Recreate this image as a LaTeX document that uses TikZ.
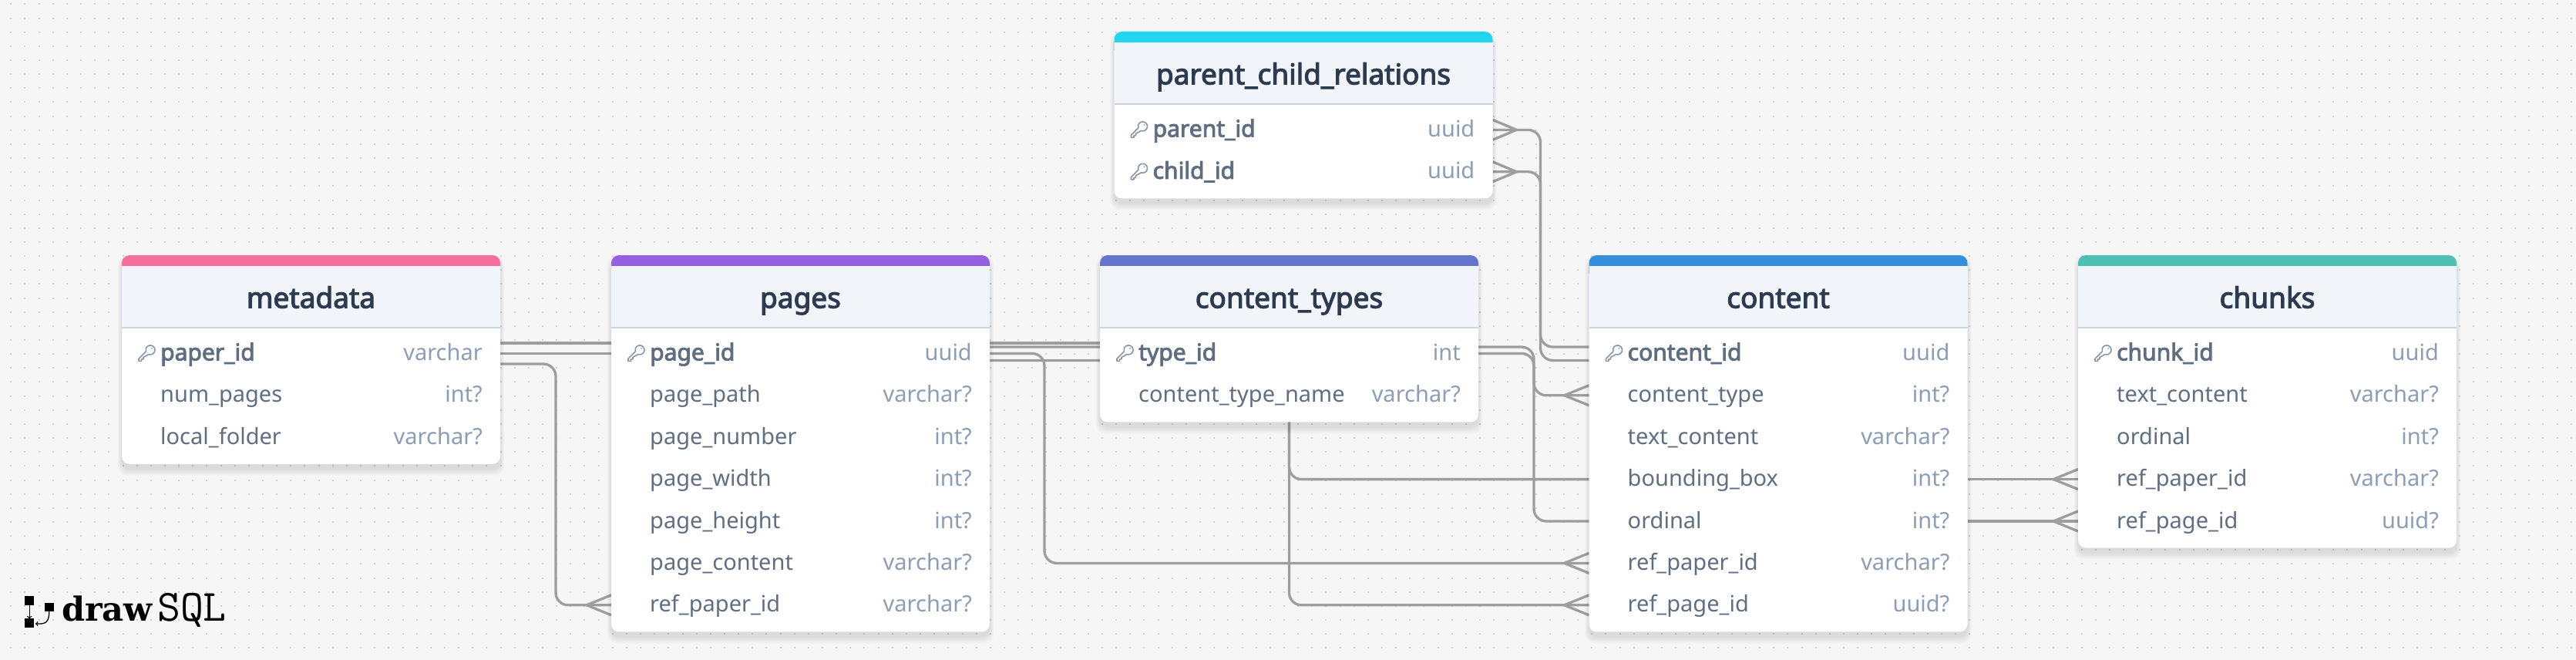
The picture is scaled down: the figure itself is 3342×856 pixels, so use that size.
\documentclass[tikz,border=0pt]{standalone}
\usepackage{fontspec}
\setmainfont{Noto Sans}
\newfontfamily\semifont{Noto Sans}[FakeBold=3]
\newfontfamily\logoserif{DejaVu Serif}
\usetikzlibrary{calc,positioning}
\definecolor{pagebg}{HTML}{F6F6F6}
\definecolor{dotgray}{HTML}{D0D0D0}
\definecolor{linkgray}{HTML}{9E9E9E}
\definecolor{headfill}{HTML}{F1F4F9}
\definecolor{headrule}{HTML}{CBD5E0}
\definecolor{titleink}{HTML}{2D3B50}
\definecolor{fieldink}{HTML}{5F6E81}
\definecolor{typeink}{HTML}{8C9DB6}
\definecolor{keyink}{HTML}{8896A8}
\definecolor{barpink}{HTML}{F76D9B}
\definecolor{barpurple}{HTML}{9561E2}
\definecolor{barindigo}{HTML}{6574CD}
\definecolor{barblue}{HTML}{3490DC}
\definecolor{barteal}{HTML}{4DC0B5}
\definecolor{barcyan}{HTML}{22D5F0}
\pgfdeclarelayer{dots}
\pgfdeclarelayer{links}
\pgfsetlayers{dots,links,main}
\tikzset{
	griddot/.style={draw=dotgray,line width=2pt,dash pattern=on 2pt off 16.15pt},
	erlink/.style={draw=linkgray,line width=3.3pt,rounded corners=16pt},
	cardbox/.style={rectangle,rounded corners=10pt,fill=white,minimum width=491pt,inner sep=0pt,outer sep=0pt,anchor=north west},
	rowslot/.style={rectangle,minimum width=491pt,minimum height=1pt,inner sep=0pt,outer sep=0pt},
	tabletitle/.style={anchor=base,inner sep=0pt,text=titleink,font=\semifont\fontsize{37}{40}\selectfont},
	rowfield/.style={anchor=base west,inner sep=0pt,text=fieldink,font=\fontsize{29}{34}\selectfont},
	rowkeyfield/.style={rowfield,font=\semifont\fontsize{30}{34}\selectfont},
	rowtype/.style={anchor=base east,inner sep=0pt,text=typeink,font=\fontsize{29}{34}\selectfont},
	logosquare/.style={rectangle,fill=black,minimum size=11.7pt,inner sep=0pt,outer sep=0pt},
	logoarrow/.style={draw=black,line width=1.3pt},
	keyicon/.pic={
		\draw[keyink,line width=1.6pt,line join=round,line cap=round]
			(2.95,1.14) arc[start angle=250,end angle=560,radius=6pt]
			-- (-10,6.9) -- (-10,10) -- (-6.5,10) -- (-6.5,7.5) -- (-4,7.5) -- (-4,5) -- cycle;
		\fill[keyink] (7,-6.5) circle (1pt);
	}
}
% one table: name, left x, top y, number of rows, bar colour, title
\newcommand{\tablecard}[6]{
	\pgfmathsetmacro{\cardheight}{162+54.4*(#4-1)}
	\foreach \s in {1,...,9}
		\fill[black,fill opacity=.012,rounded corners=12pt] (#2-.6*\s,#3+9-\s) rectangle (#2+491+.6*\s,#3+\cardheight+6+\s);
	\node[cardbox,minimum height=\cardheight pt] (#1) at (#2,#3) {};
	\fill[#5,rounded corners=10pt] (#2,#3+24) |- (#2+491,#3) -- (#2+491,#3+24) [sharp corners] -- cycle;
	\fill[headfill] (#2,#3+14) rectangle (#2+491,#3+94);
	\draw[headrule,line width=1.4pt] (#2,#3+94) -- (#2+491,#3+94);
	\node[tabletitle] (#1-title) at ($(#1.north)+(0,68.4)$) {#6};
}
% one row: table, row name, index, field, type
\newcommand{\plainrow}[5]{
	\node[rowslot] (#1-#2) at ($(#1.north)+(0,{127.4+54.4*#3})$) {};
	\node[rowfield] (#1-#2-field) at ($(#1-#2.west)+(50,9)$) {#4};
	\node[rowtype] (#1-#2-type) at ($(#1-#2.east)+(-23,9)$) {#5};
}
\newcommand{\keyrow}[5]{
	\node[rowslot] (#1-#2) at ($(#1.north)+(0,{127.4+54.4*#3})$) {};
	\node[rowkeyfield] (#1-#2-field) at ($(#1-#2.west)+(50,9)$) {#4};
	\node[rowtype] (#1-#2-type) at ($(#1-#2.east)+(-23,9)$) {#5};
	\pic at ($(#1-#2.west)+(32,0)$) {keyicon};
}
\newcommand{\crowfoot}[2]{
	\draw[erlink,sharp corners] ([yshift=13pt]#1) -- ([xshift=#2]#1) -- ([yshift=-13pt]#1);
}
\begin{document}
\begin{tikzpicture}[x=1pt,y=-1pt]
	\useasboundingbox (0,0) rectangle (3342,856);
	\begin{pgfonlayer}{dots}
		\fill[pagebg] (0,0) rectangle (3342,856);
		\foreach \k in {0,...,46}
			\draw[griddot] (-4.85,{5.4+18.15*\k}) -- (3342,{5.4+18.15*\k});
	\end{pgfonlayer}

	\tablecard{metadata}{158}{331}{3}{barpink}{metadata}
	\keyrow{metadata}{paperid}{0}{paper\_id}{varchar}
	\plainrow{metadata}{numpages}{1}{num\_pages}{int?}
	\plainrow{metadata}{localfolder}{2}{local\_folder}{varchar?}

	\tablecard{pages}{793}{331}{7}{barpurple}{pages}
	\keyrow{pages}{pageid}{0}{page\_id}{uuid}
	\plainrow{pages}{pagepath}{1}{page\_path}{varchar?}
	\plainrow{pages}{pagenumber}{2}{page\_number}{int?}
	\plainrow{pages}{pagewidth}{3}{page\_width}{int?}
	\plainrow{pages}{pageheight}{4}{page\_height}{int?}
	\plainrow{pages}{pagecontent}{5}{page\_content}{varchar?}
	\plainrow{pages}{refpaper}{6}{ref\_paper\_id}{varchar?}

	\tablecard{types}{1427}{331}{2}{barindigo}{content\_types}
	\keyrow{types}{typeid}{0}{type\_id}{int}
	\plainrow{types}{typename}{1}{content\_type\_name}{varchar?}

	\tablecard{content}{2061.5}{331}{7}{barblue}{content}
	\keyrow{content}{contentid}{0}{content\_id}{uuid}
	\plainrow{content}{contenttype}{1}{content\_type}{int?}
	\plainrow{content}{textcontent}{2}{text\_content}{varchar?}
	\plainrow{content}{bbox}{3}{bounding\_box}{int?}
	\plainrow{content}{ordinal}{4}{ordinal}{int?}
	\plainrow{content}{refpaper}{5}{ref\_paper\_id}{varchar?}
	\plainrow{content}{refpage}{6}{ref\_page\_id}{uuid?}

	\tablecard{chunks}{2696}{331}{5}{barteal}{chunks}
	\keyrow{chunks}{chunkid}{0}{chunk\_id}{uuid}
	\plainrow{chunks}{textcontent}{1}{text\_content}{varchar?}
	\plainrow{chunks}{ordinal}{2}{ordinal}{int?}
	\plainrow{chunks}{refpaper}{3}{ref\_paper\_id}{varchar?}
	\plainrow{chunks}{refpage}{4}{ref\_page\_id}{uuid?}

	\tablecard{relations}{1445.5}{41}{2}{barcyan}{parent\_child\_relations}
	\keyrow{relations}{parentid}{0}{parent\_id}{uuid}
	\keyrow{relations}{childid}{1}{child\_id}{uuid}

	\coordinate (busmeta) at (721,0);
	\coordinate (buspages) at (1355,0);
	\coordinate (bustypes) at (1672.5,0);
	\coordinate (busright) at (1990,0);
	\coordinate (busparent) at (1998.5,0);
	\coordinate (contentupper) at ([yshift=8.4pt]content-contentid.west);
	\coordinate (contentlower) at ([yshift=-9pt]content-contentid.west);

	\begin{pgfonlayer}{links}
		% metadata to pages
		\draw[erlink] ([yshift=13.4pt]metadata-paperid.east) -- ([yshift=13.4pt]pages-pageid.west);
		\draw[erlink] (metadata-paperid.east) -- (pages-pageid.west);
		\draw[erlink] ([yshift=-13.6pt]metadata-paperid.east) -| (busmeta |- pages-refpaper.west) -- (pages-refpaper.west);
		\crowfoot{pages-refpaper.west}{-32pt}
		% pages to content
		\draw[erlink] ([yshift=13.4pt]pages-pageid.east) -- ([yshift=13.4pt]types-typeid.west);
		\draw[erlink] ([yshift=8.4pt]pages-pageid.east) -| (bustypes |- content-refpage.west) -- (content-refpage.west);
		\crowfoot{content-refpage.west}{-32pt}
		\draw[erlink] ([yshift=-9pt]pages-pageid.east) -| (bustypes |- content-bbox.west) -- (content-bbox.west);
		\draw[erlink] (pages-pageid.east) -| (buspages |- content-refpaper.west) -- (content-refpaper.west);
		\crowfoot{content-refpaper.west}{-32pt}
		% content_types to content
		\draw[erlink] ([yshift=8.4pt]types-typeid.east) -| (busright |- content-ordinal.west) -- (content-ordinal.west);
		\draw[erlink] (types-typeid.east) -| (busright |- content-contenttype.west) -- (content-contenttype.west);
		\crowfoot{content-contenttype.west}{-32pt}
		% parent_child_relations to content
		\draw[erlink] (relations-parentid.east) -| (busparent |- contentupper) -- (contentupper);
		\crowfoot{relations-parentid.east}{31pt}
		\draw[erlink] (relations-childid.east) -| (busparent |- contentlower) -- (contentlower);
		\crowfoot{relations-childid.east}{31pt}
		% content to chunks
		\draw[erlink] (content-bbox.east) -- (chunks-refpaper.west);
		\crowfoot{chunks-refpaper.west}{-32pt}
		\draw[erlink] (content-ordinal.east) -- (chunks-refpage.west);
		\crowfoot{chunks-refpage.west}{-32pt}
	\end{pgfonlayer}

	% logo
	\node[logosquare] (logotop) at (38.2,778.7) {};
	\node[logosquare] (logobottom) at (38.2,808.3) {};
	\node[logosquare] (logoright) at (63.8,787.4) {};
	\draw[logoarrow,->] (logotop) -- (logobottom);
	\draw[logoarrow,->] (logoright.south) .. controls +(0,17) and +(10,0) .. (46,809);
	\node[anchor=base west,inner sep=0pt,font=\logoserif\bfseries\fontsize{43}{50}\selectfont] (logodraw) at (80,805.7) {draw};
	\node[anchor=base west,inner sep=0pt,font=\ttfamily\fontsize{58}{60}\selectfont] (logosql) at (204,805.7) {SQL};
\end{tikzpicture}
\end{document}
